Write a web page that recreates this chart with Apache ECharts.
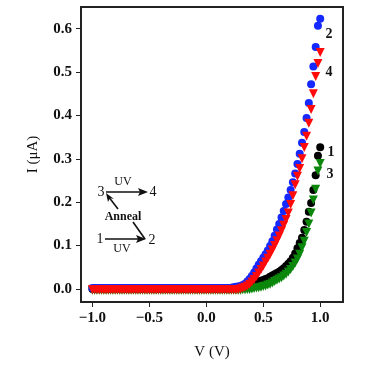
<!DOCTYPE html>
<html>
<head>
<meta charset="utf-8">
<script src="https://cdn.jsdelivr.net/npm/echarts@6/dist/echarts.min.js"></script>
<style>html,body{margin:0;padding:0;background:#fff}#c{width:365px;height:365px}</style>
</head>
<body>
<div id="c"></div>
<script>
const voltage = [
-1.00,-0.98,-0.96,-0.94,-0.92,-0.90,-0.88,-0.86,-0.84,-0.82,
-0.80,-0.78,-0.76,-0.74,-0.72,-0.70,-0.68,-0.66,-0.64,-0.62,
-0.60,-0.58,-0.56,-0.54,-0.52,-0.50,-0.48,-0.46,-0.44,-0.42,
-0.40,-0.38,-0.36,-0.34,-0.32,-0.30,-0.28,-0.26,-0.24,-0.22,
-0.20,-0.18,-0.16,-0.14,-0.12,-0.10,-0.08,-0.06,-0.04,-0.02,
0.00,0.02,0.04,0.06,0.08,0.10,0.12,0.14,0.16,0.18,
0.20,0.22,0.24,0.26,0.28,0.30,0.32,0.34,0.36,0.38,
0.40,0.42,0.44,0.46,0.48,0.50,0.52,0.54,0.56,0.58,
0.60,0.62,0.64,0.66,0.68,0.70,0.72,0.74,0.76,0.78,
0.80,0.82,0.84,0.86,0.88,0.90,0.92,0.94,0.96,0.98,
1.00];

// curve 1 (black circles)
const curve1 = [
0.000,0.000,0.000,0.000,0.000,0.000,0.000,0.000,0.000,0.000,
0.000,0.000,0.000,0.000,0.000,0.000,0.000,0.000,0.000,0.000,
0.000,0.000,0.000,0.000,0.000,0.000,0.000,0.000,0.000,0.000,
0.000,0.000,0.000,0.000,0.000,0.000,0.000,0.000,0.000,0.000,
0.000,0.000,0.000,0.000,0.000,0.000,0.000,0.000,0.000,0.000,
0.000,0.000,0.000,0.000,0.000,0.000,0.000,0.000,0.000,0.000,
0.000,0.000,0.001,0.001,0.002,0.003,0.004,0.005,0.007,0.009,
0.011,0.013,0.015,0.017,0.019,0.021,0.023,0.025,0.028,0.031,
0.034,0.037,0.040,0.044,0.048,0.053,0.058,0.064,0.072,0.082,
0.094,0.106,0.118,0.136,0.155,0.178,0.198,0.228,0.262,0.307,
0.327];

// curve 2 (blue circles)
const curve2 = [
0.002,0.002,0.002,0.002,0.002,0.002,0.002,0.002,0.002,0.002,
0.002,0.002,0.002,0.002,0.002,0.002,0.002,0.002,0.002,0.002,
0.002,0.002,0.002,0.002,0.002,0.002,0.002,0.002,0.002,0.002,
0.002,0.002,0.002,0.002,0.002,0.002,0.002,0.002,0.002,0.002,
0.002,0.002,0.002,0.002,0.002,0.002,0.002,0.002,0.002,0.002,
0.002,0.002,0.002,0.002,0.002,0.002,0.002,0.002,0.002,0.002,
0.002,0.003,0.004,0.005,0.006,0.007,0.009,0.012,0.017,0.023,
0.030,0.038,0.047,0.056,0.064,0.072,0.080,0.089,0.099,0.110,
0.123,0.137,0.150,0.165,0.180,0.196,0.211,0.228,0.246,0.266,
0.288,0.312,0.337,0.362,0.394,0.429,0.472,0.513,0.558,0.607,
0.623];

// curve 3 (green triangles)
const curve3 = [
-0.003,-0.003,-0.003,-0.003,-0.003,-0.003,-0.003,-0.003,-0.003,-0.003,
-0.003,-0.003,-0.003,-0.003,-0.003,-0.003,-0.003,-0.003,-0.003,-0.003,
-0.003,-0.003,-0.003,-0.003,-0.003,-0.003,-0.003,-0.003,-0.003,-0.003,
-0.003,-0.003,-0.003,-0.003,-0.003,-0.003,-0.003,-0.003,-0.003,-0.003,
-0.003,-0.003,-0.003,-0.003,-0.003,-0.003,-0.003,-0.003,-0.003,-0.003,
-0.003,-0.003,-0.003,-0.003,-0.003,-0.003,-0.003,-0.003,-0.003,-0.003,
-0.003,-0.003,-0.003,-0.003,-0.003,-0.003,-0.002,-0.002,-0.001,-0.001,
0.000,0.001,0.002,0.003,0.004,0.006,0.007,0.009,0.011,0.014,
0.017,0.020,0.023,0.026,0.030,0.034,0.039,0.045,0.052,0.060,
0.069,0.080,0.095,0.110,0.130,0.150,0.175,0.205,0.230,0.272,
0.289];

// curve 4 (red triangles)
const curve4 = [
-0.002,-0.002,-0.002,-0.002,-0.002,-0.002,-0.002,-0.002,-0.002,-0.002,
-0.002,-0.002,-0.002,-0.002,-0.002,-0.002,-0.002,-0.002,-0.002,-0.002,
-0.002,-0.002,-0.002,-0.002,-0.002,-0.002,-0.002,-0.002,-0.002,-0.002,
-0.002,-0.002,-0.002,-0.002,-0.002,-0.002,-0.002,-0.002,-0.002,-0.002,
-0.002,-0.002,-0.002,-0.002,-0.002,-0.002,-0.002,-0.002,-0.002,-0.002,
-0.002,-0.002,-0.002,-0.002,-0.002,-0.002,-0.002,-0.002,-0.002,-0.002,
-0.002,-0.002,-0.002,-0.002,-0.001,0.000,0.002,0.004,0.007,0.011,
0.016,0.022,0.029,0.037,0.045,0.053,0.062,0.071,0.080,0.090,
0.100,0.111,0.122,0.134,0.147,0.160,0.175,0.195,0.215,0.240,
0.260,0.278,0.300,0.326,0.352,0.382,0.414,0.450,0.490,0.520,
0.545];

const xTicks = [-1.0, -0.5, 0.0, 0.5, 1.0];
const yTicks = [0.0, 0.1, 0.2, 0.3, 0.4, 0.5, 0.6];

const FONT = '"Liberation Serif", "DejaVu Serif", serif';
const pairs = arr => voltage.map((v, i) => [v, arr[i]]);
const fmt = v => (v < 0 ? '\u2212' : '') + Math.abs(v).toFixed(1);

const chart = echarts.init(document.getElementById('c'), null, {renderer: 'canvas'});

function txt(x, y, s, size, weight) {
  return {type: 'text', x: x, y: y, z: 100,
    style: {text: s, fill: '#111', font: (weight || 'normal') + ' ' + size + 'px ' + FONT,
            textAlign: 'center', textVerticalAlign: 'middle'}};
}
function ln(x1, y1, x2, y2) {
  return {type: 'line', z: 100, shape: {x1: x1, y1: y1, x2: x2, y2: y2},
    style: {stroke: '#111', lineWidth: 1.6}};
}
function head(pts) {
  return {type: 'polygon', z: 100, shape: {points: pts}, style: {fill: '#111'}};
}

const option = {
  animation: false,
  backgroundColor: '#fff',
  grid: {left: 81, top: 7, width: 262, height: 299, show: true,
         borderColor: '#222', borderWidth: 2, backgroundColor: 'transparent'},
  xAxis: {
    type: 'value', min: -1.1, max: 1.2,
    axisLine: {show: false, onZero: false},
    splitLine: {show: false},
    axisTick: {show: true, length: 5, customValues: xTicks, lineStyle: {color: '#222', width: 1}},
    axisLabel: {customValues: xTicks, formatter: fmt, margin: 9, color: '#111',
                fontFamily: FONT, fontSize: 15, fontWeight: 'bold'},
    name: 'V (V)', nameLocation: 'middle', nameGap: 43,
    nameTextStyle: {fontFamily: FONT, fontSize: 15, color: '#111'}
  },
  yAxis: {
    type: 'value', min: -0.03, max: 0.65,
    axisLine: {show: false, onZero: false},
    splitLine: {show: false},
    axisTick: {show: true, length: 5, customValues: yTicks, lineStyle: {color: '#222', width: 1}},
    axisLabel: {customValues: yTicks, formatter: fmt, margin: 9, color: '#111',
                fontFamily: FONT, fontSize: 15, fontWeight: 'bold'},
    name: 'I (\u03bcA)', nameLocation: 'middle', nameGap: 40, nameRotate: 90,
    nameTextStyle: {fontFamily: FONT, fontSize: 15, color: '#111'}
  },
  series: [
    {name: '1', type: 'scatter', data: pairs(curve1), symbol: 'circle', symbolSize: 8,
     itemStyle: {color: '#000000', opacity: 1}},
    {name: '3', type: 'scatter', data: pairs(curve3), symbol: 'triangle', symbolRotate: 180, symbolSize: 9,
     itemStyle: {color: '#0b870b', opacity: 1}},
    {name: '2', type: 'scatter', data: pairs(curve2), symbol: 'circle', symbolSize: 8,
     itemStyle: {color: '#1428ff', opacity: 1}},
    {name: '4', type: 'scatter', data: pairs(curve4), symbol: 'triangle', symbolRotate: 180, symbolSize: 9,
     itemStyle: {color: '#ff0a0a', opacity: 1}}
  ],
  graphic: [
    txt(329, 34, '2', 14, 'bold'),
    txt(329, 72, '4', 14, 'bold'),
    txt(331, 152, '1', 14, 'bold'),
    txt(330, 174, '3', 14, 'bold'),
    // annotation: 3 -UV-> 4
    txt(101, 192, '3', 14),
    ln(106, 192, 145, 192),
    head([[148, 192], [138, 188], [140, 192], [138, 196]]),
    txt(153, 192, '4', 14),
    txt(123, 182, 'UV', 12),
    // Anneal arrow up to 3
    ln(118, 209, 108, 196),
    head([[106, 193], [108, 202], [110, 198], [114, 199]]),
    txt(123, 217, 'Anneal', 12, 'bold'),
    ln(133, 222, 145, 239),
    // 1 -UV-> 2
    txt(100, 239, '1', 14),
    ln(105, 239, 143, 239),
    head([[146, 239], [136, 235], [138, 239], [136, 243]]),
    txt(152, 240, '2', 14),
    txt(122, 249, 'UV', 12)
  ]
};
chart.setOption(option);
</script>
</body>
</html>
